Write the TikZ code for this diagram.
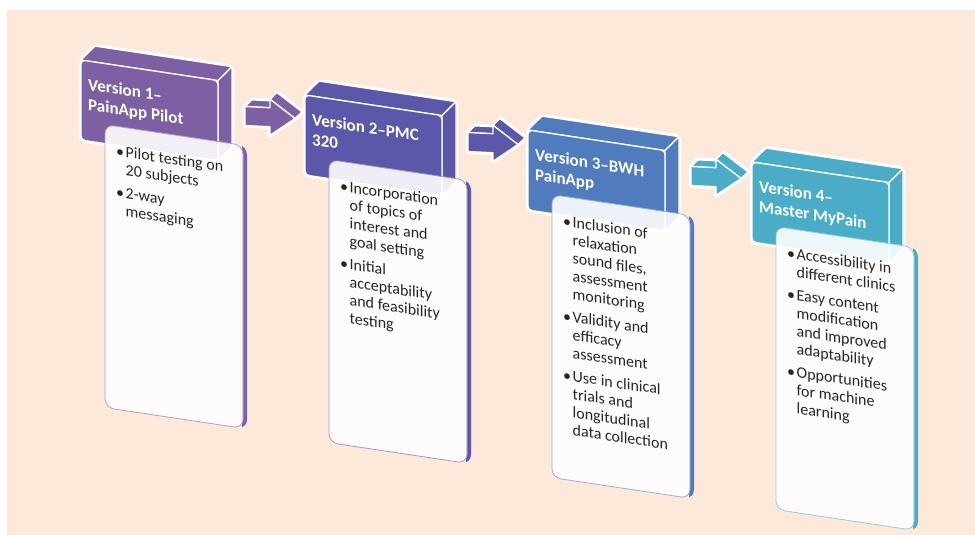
\documentclass[tikz,border=0pt]{standalone}
\usepackage{fontspec}
\setmainfont{Carlito}
\usetikzlibrary{calc}
\definecolor{peach}{HTML}{FDE9D9}
\definecolor{cA}{HTML}{7D60A3}
\definecolor{cB}{HTML}{5C57A8}
\definecolor{cC}{HTML}{507CBE}
\definecolor{cD}{HTML}{4AACC6}
\tikzset{
  face/.style={fill=#1, draw=white, line width=1.3pt, line join=round},
  glowline/.style={draw=white, fill=white, line width=4.5pt, line join=round},
  titletext/.style={anchor=north west, inner sep=0pt, text=white,
    font=\fontsize{17}{20}\selectfont\bfseries, transform shape},
  bodytext/.style={anchor=north west, inner sep=0pt, text=black!85,
    font=\fontsize{16}{18}\selectfont, transform shape},
}
\newcommand\stagebox[6]{%
\begin{scope}[shift={(#1,#2)}, yslant=-0.15]
  \path[glowline, rounded corners=4] (0,0) -- (14,-16) -- (151,-16) -- (151,64) -- (137,80) -- (0,80) -- cycle;
  \path[face=#3] (0,0) -- (14,-16) -- (151,-16) -- (137,0) -- cycle;
  \path[face=#3] (137,0) -- (151,-16) -- (151,64) -- (137,80) -- cycle;
  \path[face=#3, rounded corners=4] (0,0) rectangle (137,80);
  \node[titletext] (#4t) at (7,15) {\begin{tabular}{@{}l@{}}#5\end{tabular}};
  \begin{scope}
    \clip (161,40) rectangle (180,360);
    \fill[#3, rounded corners=9] (28,61) rectangle (166,344);
  \end{scope}
  \path[fill=white, fill opacity=0.9, draw=#3!60, line width=0.8pt, rounded corners=9] (24,61) rectangle (162,344);
  \node[bodytext] (#4b) at (35,78) {\begin{tabular}{@{}l@{\hspace{1.5pt}}l@{}}#6\end{tabular}};
\end{scope}}
\newcommand\stagearrow[3]{%
\begin{scope}[shift={(#1,#2)}, yslant=-0.05]
  \path[glowline] (0,-9.5) -- (7,-16.5) -- (32,-16.5) -- (32,-25) -- (57,-7) -- (50,0) -- (25,18) -- (25,9.5) -- (0,9.5) -- cycle;
  \path[face=#3] (0,-9.5) -- (7,-16.5) -- (32,-16.5) -- (25,-9.5) -- cycle;
  \path[face=#3] (25,-18) -- (32,-25) -- (57,-7) -- (50,0) -- cycle;
  \path[face=#3] (0,-9.5) -- (25,-9.5) -- (25,-18) -- (50,0) -- (25,18) -- (25,9.5) -- (0,9.5) -- cycle;
\end{scope}}
\begin{document}
\begin{tikzpicture}[x=1pt, y=-1pt]
\useasboundingbox (0,0) rectangle (975,535);
\fill[white] (0,0) rectangle (975,535);
\fill[peach] (7,10) rectangle (975,535);

\stagearrow{245}{116}{cA}
\stagearrow{468}{142}{cB}
\stagearrow{691}{176}{cD}

\stagebox{81}{60}{cA}{s1}{Version 1–\\PainApp Pilot}%
  {•&Pilot testing on\\&20 subjects\\[5pt]•&2-way\\&messaging}
\stagebox{305}{95}{cB}{s2}{Version 2–PMC\\320}%
  {•&Incorporation\\&of topics of\\&interest and\\&goal setting\\[5pt]•&Initial\\&acceptability\\&and feasibility\\&testing}
\stagebox{528}{130}{cC}{s3}{Version 3–BWH\\PainApp}%
  {•&Inclusion of\\&relaxation\\&sound files,\\&assessment\\&monitoring\\[5pt]•&Validity and\\&efficacy\\&assessment\\[5pt]•&Use in clinical\\&trials and\\&longitudinal\\&data collection}
\stagebox{752}{162}{cD}{s4}{Version 4–\\Master MyPain}%
  {•&Accessibility in\\&different clinics\\[5pt]•&Easy content\\&modification\\&and improved\\&adaptability\\[5pt]•&Opportunities\\&for machine\\&learning}
\end{tikzpicture}
\end{document}
